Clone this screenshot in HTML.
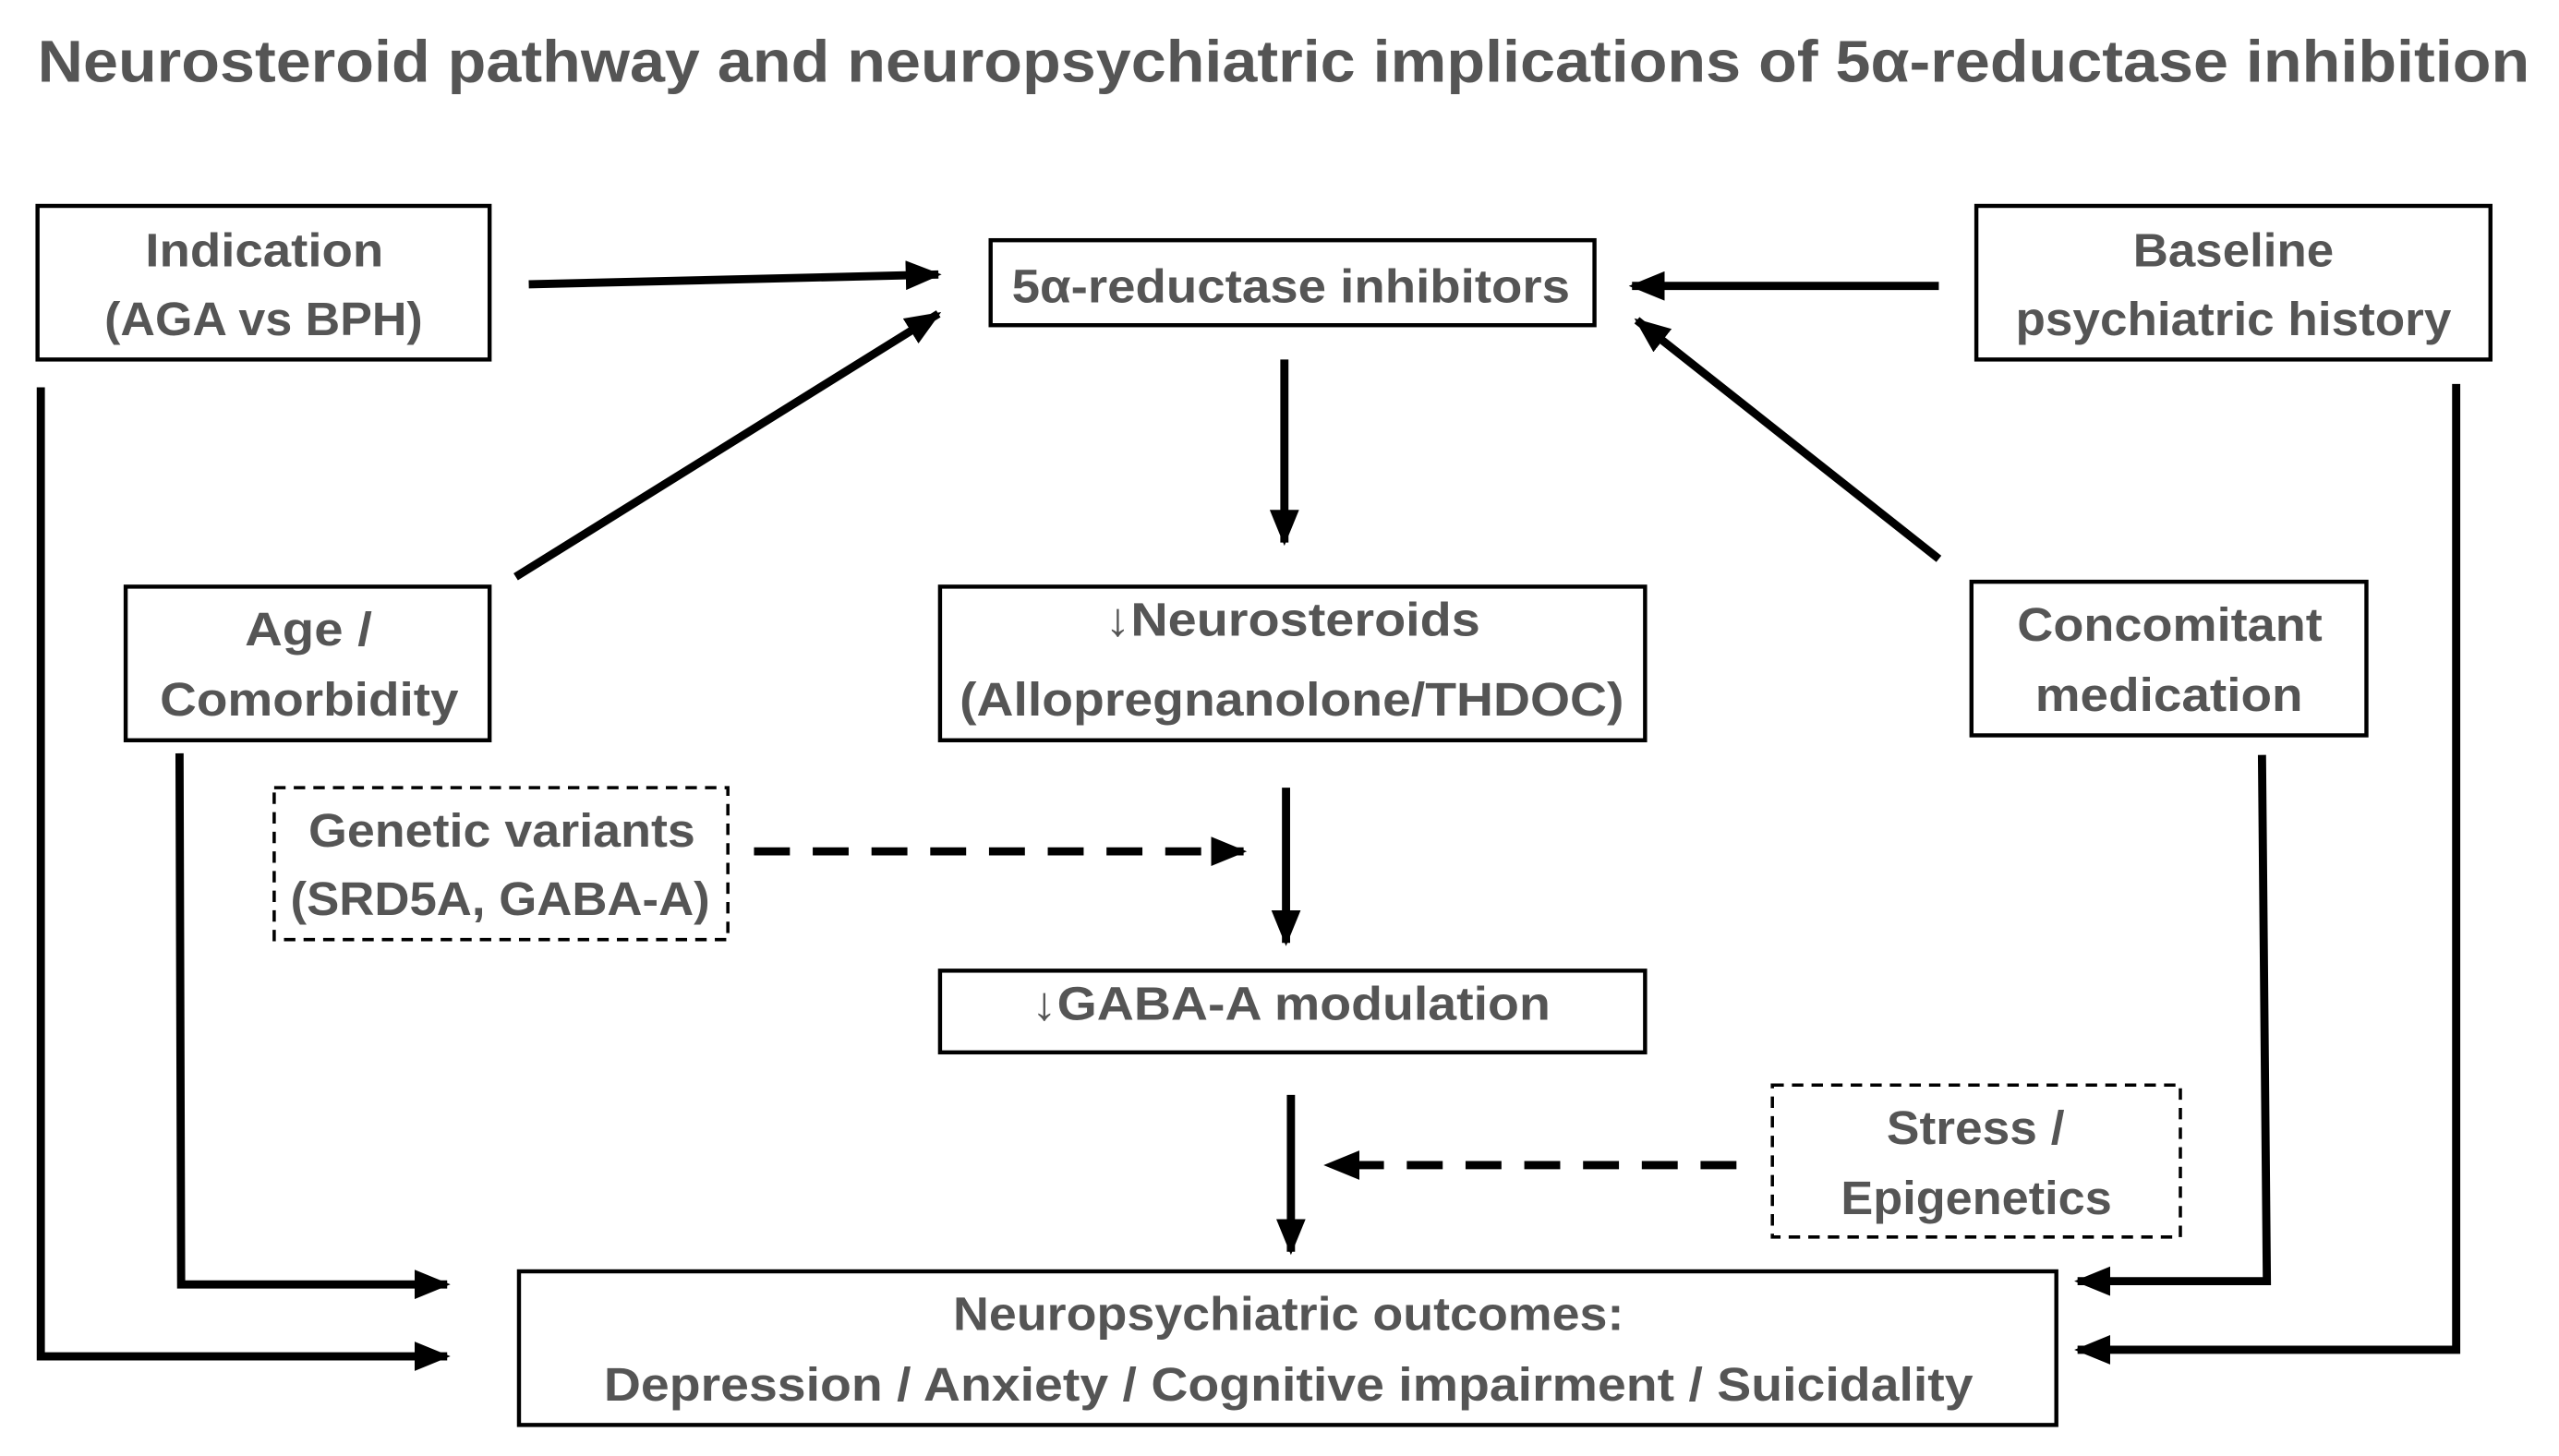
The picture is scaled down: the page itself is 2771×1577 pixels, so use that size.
<!DOCTYPE html>
<html><head><meta charset="utf-8"><style>
html,body{margin:0;padding:0;background:#fff;}
svg{display:block;}
text{font-family:"Liberation Sans",sans-serif;font-weight:bold;fill:#555;font-size:29px;}
</style></head><body>
<svg width="2771" height="1577" viewBox="0 0 1568 891" preserveAspectRatio="none" xmlns="http://www.w3.org/2000/svg">
<defs>
<marker id="a" markerUnits="userSpaceOnUse" markerWidth="22" markerHeight="18" refX="20" refY="9" orient="auto">
<path d="M0,0 L22,9 L0,18 Z" fill="#000"/></marker>
</defs>
<text x="23" y="50" font-size="36" style="font-size:36px" textLength="1527" lengthAdjust="spacingAndGlyphs">Neurosteroid pathway and neuropsychiatric implications of 5α-reductase inhibition</text>

<g fill="none" stroke="#000" stroke-width="2.5">
<rect x="23" y="126" width="277" height="94"/>
<rect x="607" y="147" width="370" height="52"/>
<rect x="1211" y="126" width="315" height="94"/>
<rect x="77" y="359" width="223" height="94"/>
<rect x="576" y="359" width="432" height="94"/>
<rect x="1208" y="356" width="242" height="94"/>
<rect x="576" y="594" width="432" height="50"/>
<rect x="318" y="778" width="942" height="94"/>
</g>
<g fill="none" stroke="#000" stroke-width="2" stroke-dasharray="7,5">
<rect x="168" y="482" width="278" height="93"/>
<rect x="1086" y="664" width="250" height="93"/>
</g>

<g fill="none" stroke="#000" stroke-width="5" marker-end="url(#a)">
<line x1="324" y1="174" x2="575" y2="168"/>
<line x1="316" y1="353" x2="575" y2="192"/>
<line x1="1188" y1="175" x2="1000" y2="175"/>
<line x1="1188" y1="342" x2="1003" y2="196"/>
<line x1="787" y1="220" x2="787" y2="332"/>
<line x1="788" y1="482" x2="788" y2="577"/>
<line x1="791" y1="670" x2="791" y2="766"/>
<polyline points="25,237 25,830 274,830"/>
<polyline points="110,461 111,786 274,786"/>
<polyline points="1386,462 1389,784 1273,784"/>
<polyline points="1505,235 1505,826 1273,826"/>
<line x1="462" y1="521" x2="762" y2="521" stroke-dasharray="22,14"/>
<line x1="1064" y1="713" x2="813" y2="713" stroke-dasharray="22,14"/>
</g>

<text x="89" y="163" textLength="146" lengthAdjust="spacingAndGlyphs">Indication</text>
<text x="64" y="205" textLength="195" lengthAdjust="spacingAndGlyphs">(AGA vs BPH)</text>
<text x="620" y="185" textLength="342" lengthAdjust="spacingAndGlyphs">5α-reductase inhibitors</text>
<text x="1307" y="163" textLength="123" lengthAdjust="spacingAndGlyphs">Baseline</text>
<text x="1235" y="205" textLength="267" lengthAdjust="spacingAndGlyphs">psychiatric history</text>
<text x="150" y="395" textLength="78" lengthAdjust="spacingAndGlyphs">Age /</text>
<text x="98" y="438" textLength="183" lengthAdjust="spacingAndGlyphs">Comorbidity</text>
<text x="677" y="389" textLength="230" lengthAdjust="spacingAndGlyphs">↓Neurosteroids</text>
<text x="588" y="438" textLength="407" lengthAdjust="spacingAndGlyphs">(Allopregnanolone/THDOC)</text>
<text x="1236" y="392" textLength="187" lengthAdjust="spacingAndGlyphs">Concomitant</text>
<text x="1247" y="435" textLength="164" lengthAdjust="spacingAndGlyphs">medication</text>
<text x="189" y="518" textLength="237" lengthAdjust="spacingAndGlyphs">Genetic variants</text>
<text x="178" y="560" textLength="257" lengthAdjust="spacingAndGlyphs">(SRD5A, GABA-A)</text>
<text x="632" y="624" textLength="318" lengthAdjust="spacingAndGlyphs">↓GABA-A modulation</text>
<text x="1156" y="700" textLength="109" lengthAdjust="spacingAndGlyphs">Stress /</text>
<text x="1128" y="743" textLength="166" lengthAdjust="spacingAndGlyphs">Epigenetics</text>
<text x="584" y="814" textLength="411" lengthAdjust="spacingAndGlyphs">Neuropsychiatric outcomes:</text>
<text x="370" y="857" textLength="839" lengthAdjust="spacingAndGlyphs">Depression / Anxiety / Cognitive impairment / Suicidality</text>
</svg>
</body></html>
